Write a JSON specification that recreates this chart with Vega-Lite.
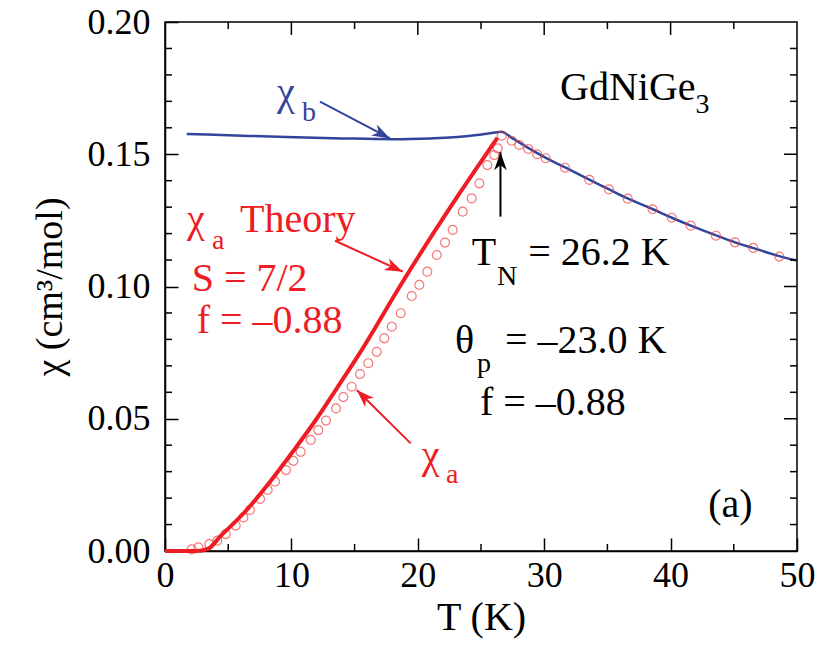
{
  "$schema": "https://vega.github.io/schema/vega-lite/v6.json",
  "width": 632,
  "height": 529,
  "autosize": {"type": "none"},
  "padding": {"left": 165, "top": 22, "right": 23, "bottom": 94},
  "background": "white",
  "config": {"view": {"stroke": "black", "strokeWidth": 1.5}},
  "datasets": {
    "chib": [
      {"T": 1.72, "chi": 0.1577}, {"T": 5, "chi": 0.1572}, {"T": 9.6, "chi": 0.1565},
      {"T": 14, "chi": 0.1560}, {"T": 18.06, "chi": 0.1557}, {"T": 21, "chi": 0.1560},
      {"T": 22.8, "chi": 0.1564}, {"T": 24.5, "chi": 0.1572}, {"T": 26.1, "chi": 0.1582},
      {"T": 26.6, "chi": 0.1585}, {"T": 27.5, "chi": 0.1560}, {"T": 28.7, "chi": 0.1525},
      {"T": 30.1, "chi": 0.1487}, {"T": 31.7, "chi": 0.1449}, {"T": 33.6, "chi": 0.1403},
      {"T": 35.1, "chi": 0.1368}, {"T": 36.6, "chi": 0.1333}, {"T": 38.6, "chi": 0.1292},
      {"T": 40.1, "chi": 0.1260}, {"T": 41.6, "chi": 0.1230}, {"T": 43.6, "chi": 0.1193},
      {"T": 45.1, "chi": 0.1167}, {"T": 46.5, "chi": 0.1146}, {"T": 48.6, "chi": 0.1115},
      {"T": 50, "chi": 0.1098}
    ],
    "theory": [
      {"T": 0, "chi": 0}, {"T": 2.5, "chi": 0}, {"T": 3.4, "chi": 0.0008},
      {"T": 4.35, "chi": 0.0054}, {"T": 6.46, "chi": 0.0155}, {"T": 8.31, "chi": 0.0262},
      {"T": 10.15, "chi": 0.0378}, {"T": 12.0, "chi": 0.0500}, {"T": 13.58, "chi": 0.0614},
      {"T": 15.43, "chi": 0.0750}, {"T": 18.83, "chi": 0.1020}, {"T": 22.55, "chi": 0.1298},
      {"T": 26.3, "chi": 0.1562}
    ],
    "chia": [
      {"T": 2.11, "chi": 0.0006}, {"T": 2.64, "chi": 0.0014}, {"T": 3.5, "chi": 0.0026},
      {"T": 4.14, "chi": 0.0039}, {"T": 4.8, "chi": 0.0064}, {"T": 5.59, "chi": 0.0096},
      {"T": 6.2, "chi": 0.0127}, {"T": 6.72, "chi": 0.0155}, {"T": 7.52, "chi": 0.0197},
      {"T": 8.12, "chi": 0.0231}, {"T": 8.7, "chi": 0.0262}, {"T": 9.57, "chi": 0.0306},
      {"T": 10.15, "chi": 0.0341}, {"T": 10.73, "chi": 0.0375}, {"T": 11.53, "chi": 0.0420},
      {"T": 12.13, "chi": 0.0457}, {"T": 12.74, "chi": 0.0493}, {"T": 13.53, "chi": 0.0539},
      {"T": 14.11, "chi": 0.0582}, {"T": 14.77, "chi": 0.0621}, {"T": 15.43, "chi": 0.0669},
      {"T": 16.08, "chi": 0.0710}, {"T": 16.75, "chi": 0.0753}, {"T": 17.35, "chi": 0.0804},
      {"T": 17.94, "chi": 0.0848}, {"T": 18.65, "chi": 0.0899}, {"T": 19.52, "chi": 0.0964},
      {"T": 20.12, "chi": 0.1006}, {"T": 20.75, "chi": 0.1056}, {"T": 21.5, "chi": 0.1119},
      {"T": 22.15, "chi": 0.1166}, {"T": 22.76, "chi": 0.1214}, {"T": 23.55, "chi": 0.1283},
      {"T": 24.26, "chi": 0.1333}, {"T": 24.87, "chi": 0.1390}, {"T": 25.5, "chi": 0.1459},
      {"T": 26.05, "chi": 0.1497}, {"T": 26.32, "chi": 0.1522}, {"T": 26.64, "chi": 0.1570},
      {"T": 27.43, "chi": 0.1551}, {"T": 28.03, "chi": 0.1535}, {"T": 28.74, "chi": 0.1520},
      {"T": 29.45, "chi": 0.1500}, {"T": 30.12, "chi": 0.1485}, {"T": 31.65, "chi": 0.1449},
      {"T": 33.57, "chi": 0.1403}, {"T": 35.13, "chi": 0.1367}, {"T": 36.61, "chi": 0.1332},
      {"T": 38.58, "chi": 0.1292}, {"T": 40.09, "chi": 0.1260}, {"T": 41.59, "chi": 0.1230},
      {"T": 43.59, "chi": 0.1192}, {"T": 45.09, "chi": 0.1167}, {"T": 46.54, "chi": 0.1146},
      {"T": 48.6, "chi": 0.1113}
    ],
    "ticks": [
      {"T": 5, "chi": 0, "side": "bottom", "kind": "minor"}, {"T": 15, "chi": 0, "side": "bottom", "kind": "minor"},
      {"T": 25, "chi": 0, "side": "bottom", "kind": "minor"}, {"T": 35, "chi": 0, "side": "bottom", "kind": "minor"},
      {"T": 45, "chi": 0, "side": "bottom", "kind": "minor"},
      {"T": 5, "chi": 0.2, "side": "top", "kind": "minor"}, {"T": 15, "chi": 0.2, "side": "top", "kind": "minor"},
      {"T": 25, "chi": 0.2, "side": "top", "kind": "minor"}, {"T": 35, "chi": 0.2, "side": "top", "kind": "minor"},
      {"T": 45, "chi": 0.2, "side": "top", "kind": "minor"},
      {"T": 10, "chi": 0.2, "side": "top", "kind": "major"}, {"T": 20, "chi": 0.2, "side": "top", "kind": "major"},
      {"T": 30, "chi": 0.2, "side": "top", "kind": "major"}, {"T": 40, "chi": 0.2, "side": "top", "kind": "major"},
      {"T": 0, "chi": 0.01, "side": "left", "kind": "minor"}, {"T": 0, "chi": 0.02, "side": "left", "kind": "minor"},
      {"T": 0, "chi": 0.03, "side": "left", "kind": "minor"}, {"T": 0, "chi": 0.04, "side": "left", "kind": "minor"},
      {"T": 0, "chi": 0.06, "side": "left", "kind": "minor"}, {"T": 0, "chi": 0.07, "side": "left", "kind": "minor"},
      {"T": 0, "chi": 0.08, "side": "left", "kind": "minor"}, {"T": 0, "chi": 0.09, "side": "left", "kind": "minor"},
      {"T": 0, "chi": 0.11, "side": "left", "kind": "minor"}, {"T": 0, "chi": 0.12, "side": "left", "kind": "minor"},
      {"T": 0, "chi": 0.13, "side": "left", "kind": "minor"}, {"T": 0, "chi": 0.14, "side": "left", "kind": "minor"},
      {"T": 0, "chi": 0.16, "side": "left", "kind": "minor"}, {"T": 0, "chi": 0.17, "side": "left", "kind": "minor"},
      {"T": 0, "chi": 0.18, "side": "left", "kind": "minor"}, {"T": 0, "chi": 0.19, "side": "left", "kind": "minor"},
      {"T": 50, "chi": 0.01, "side": "right", "kind": "minor"}, {"T": 50, "chi": 0.02, "side": "right", "kind": "minor"},
      {"T": 50, "chi": 0.03, "side": "right", "kind": "minor"}, {"T": 50, "chi": 0.04, "side": "right", "kind": "minor"},
      {"T": 50, "chi": 0.06, "side": "right", "kind": "minor"}, {"T": 50, "chi": 0.07, "side": "right", "kind": "minor"},
      {"T": 50, "chi": 0.08, "side": "right", "kind": "minor"}, {"T": 50, "chi": 0.09, "side": "right", "kind": "minor"},
      {"T": 50, "chi": 0.11, "side": "right", "kind": "minor"}, {"T": 50, "chi": 0.12, "side": "right", "kind": "minor"},
      {"T": 50, "chi": 0.13, "side": "right", "kind": "minor"}, {"T": 50, "chi": 0.14, "side": "right", "kind": "minor"},
      {"T": 50, "chi": 0.16, "side": "right", "kind": "minor"}, {"T": 50, "chi": 0.17, "side": "right", "kind": "minor"},
      {"T": 50, "chi": 0.18, "side": "right", "kind": "minor"}, {"T": 50, "chi": 0.19, "side": "right", "kind": "minor"},
      {"T": 50, "chi": 0.05, "side": "right", "kind": "major"}, {"T": 50, "chi": 0.1, "side": "right", "kind": "major"},
      {"T": 50, "chi": 0.15, "side": "right", "kind": "major"}
    ],
    "mainText": [
      {"T": 8.86, "chi": 0.1686, "label": "χ", "series": "b"},
      {"T": 1.74, "chi": 0.1206, "label": "χ", "series": "a"},
      {"T": 5.93, "chi": 0.1206, "label": "Theory", "series": "a"},
      {"T": 2.11, "chi": 0.0983, "label": "S = 7/2", "series": "a"},
      {"T": 2.51, "chi": 0.0823, "label": "f = –0.88", "series": "a"},
      {"T": 20.31, "chi": 0.0314, "label": "χ", "series": "a"},
      {"T": 31.25, "chi": 0.1705, "label": "GdNiGe", "series": "n"},
      {"T": 24.26, "chi": 0.1081, "label": "T", "series": "n"},
      {"T": 28.74, "chi": 0.1081, "label": "= 26.2 K", "series": "n"},
      {"T": 22.94, "chi": 0.0747, "label": "θ", "series": "n"},
      {"T": 26.9, "chi": 0.0747, "label": "= –23.0 K", "series": "n"},
      {"T": 24.92, "chi": 0.0514, "label": "f = –0.88", "series": "n"},
      {"T": 42.98, "chi": 0.0130, "label": "(a)", "series": "n"}
    ],
    "subText": [
      {"T": 10.84, "chi": 0.1626, "label": "b", "series": "b"},
      {"T": 3.72, "chi": 0.1142, "label": "a", "series": "a"},
      {"T": 22.23, "chi": 0.0257, "label": "a", "series": "a"},
      {"T": 41.97, "chi": 0.1656, "label": "3", "series": "n"},
      {"T": 26.26, "chi": 0.1006, "label": "N", "series": "n"},
      {"T": 24.68, "chi": 0.0677, "label": "p", "series": "n"}
    ],
    "arrows": [
      {"T": 12.26, "chi": 0.1699, "T2": 17.8, "chi2": 0.1560, "series": "b", "angle": 117.6},
      {"T": 13.45, "chi": 0.1173, "T2": 18.81, "chi2": 0.1056, "series": "a", "angle": 114.6},
      {"T": 19.44, "chi": 0.0407, "T2": 15.17, "chi2": 0.0609, "series": "a", "angle": -45.4},
      {"T": 26.54, "chi": 0.1264, "T2": 26.54, "chi2": 0.1508, "series": "n", "angle": 0}
    ]
  },
  "layer": [
    {
      "data": {"name": "chib"},
      "mark": {"type": "line", "color": "#33449c", "strokeWidth": 2.5, "interpolate": "monotone"},
      "encoding": {
        "x": {"field": "T", "type": "quantitative", "scale": {"domain": [0, 50], "nice": false},
          "axis": {"orient": "bottom", "title": "T (K)", "grid": false,
            "values": [0, 10, 20, 30, 40, 50], "format": "d", "labelFlush": false, "labelOverlap": false,
            "labelFont": "serif", "labelFontSize": 36, "labelColor": "black",
            "titleFont": "serif", "titleFontSize": 40, "titleFontWeight": "normal", "titleColor": "black",
            "domainColor": "black", "domainWidth": 1.5, "tickColor": "black", "tickWidth": 1.5,
            "tickSize": -13, "labelPadding": 20, "titlePadding": 4}},
        "y": {"field": "chi", "type": "quantitative", "scale": {"domain": [0, 0.2], "nice": false, "zero": false},
          "axis": {"orient": "left", "title": "χ (cm³/mol)", "grid": false,
            "values": [0, 0.05, 0.1, 0.15, 0.2], "format": ".2f", "labelOverlap": false,
            "labelFont": "serif", "labelFontSize": 36, "labelColor": "black",
            "titleFont": "serif", "titleFontSize": 38, "titleFontWeight": "normal", "titleColor": "black",
            "domainColor": "black", "domainWidth": 1.5, "tickColor": "black", "tickWidth": 1.5,
            "tickSize": -13, "labelPadding": 28, "titlePadding": 18}}
      }
    },
    {
      "data": {"name": "ticks"},
      "mark": {"type": "point", "filled": false, "color": "black", "strokeWidth": 1.5, "opacity": 1},
      "encoding": {
        "x": {"field": "T", "type": "quantitative"},
        "y": {"field": "chi", "type": "quantitative"},
        "shape": {"field": "side", "type": "nominal", "legend": null,
          "scale": {"domain": ["bottom", "top", "left", "right"], "range": ["M0,0 L0,-1", "M0,0 L0,1", "M0,0 L1,0", "M0,0 L-1,0"]}},
        "size": {"field": "kind", "type": "ordinal", "legend": null,
          "scale": {"domain": ["minor", "major"], "range": [196, 676]}}
      }
    },
    {
      "data": {"name": "chia"},
      "mark": {"type": "point", "shape": "circle", "filled": false, "color": "#f04040", "strokeWidth": 1.2, "opacity": 0.7, "size": 80},
      "encoding": {"x": {"field": "T", "type": "quantitative"}, "y": {"field": "chi", "type": "quantitative"}}
    },
    {
      "data": {"name": "theory"},
      "mark": {"type": "line", "color": "#ee1c24", "strokeWidth": 4, "interpolate": "monotone"},
      "encoding": {"x": {"field": "T", "type": "quantitative"}, "y": {"field": "chi", "type": "quantitative"}}
    },
    {
      "data": {"name": "arrows"},
      "mark": {"type": "rule", "strokeWidth": 2},
      "encoding": {
        "x": {"field": "T", "type": "quantitative"}, "y": {"field": "chi", "type": "quantitative"},
        "x2": {"field": "T2"}, "y2": {"field": "chi2"},
        "color": {"field": "series", "type": "nominal", "legend": null,
          "scale": {"domain": ["b", "a", "n"], "range": ["#33449c", "#ee1c24", "black"]}}
      }
    },
    {
      "data": {"name": "arrows"},
      "mark": {"type": "point", "shape": "M0,0 L0.35,1 L0,0.72 L-0.35,1 Z", "filled": true, "size": 1296, "opacity": 1},
      "encoding": {
        "x": {"field": "T2", "type": "quantitative"}, "y": {"field": "chi2", "type": "quantitative"},
        "angle": {"field": "angle", "type": "quantitative", "scale": null},
        "color": {"field": "series", "type": "nominal", "legend": null,
          "scale": {"domain": ["b", "a", "n"], "range": ["#33449c", "#ee1c24", "black"]}}
      }
    },
    {
      "data": {"name": "mainText"},
      "mark": {"type": "text", "font": "serif", "fontSize": 40, "align": "left", "baseline": "alphabetic"},
      "encoding": {
        "x": {"field": "T", "type": "quantitative"}, "y": {"field": "chi", "type": "quantitative"},
        "text": {"field": "label"},
        "color": {"field": "series", "type": "nominal", "legend": null,
          "scale": {"domain": ["b", "a", "n"], "range": ["#33449c", "#ee1c24", "black"]}}
      }
    },
    {
      "data": {"name": "subText"},
      "mark": {"type": "text", "font": "serif", "fontSize": 28, "align": "left", "baseline": "alphabetic"},
      "encoding": {
        "x": {"field": "T", "type": "quantitative"}, "y": {"field": "chi", "type": "quantitative"},
        "text": {"field": "label"},
        "color": {"field": "series", "type": "nominal", "legend": null,
          "scale": {"domain": ["b", "a", "n"], "range": ["#33449c", "#ee1c24", "black"]}}
      }
    }
  ]
}
